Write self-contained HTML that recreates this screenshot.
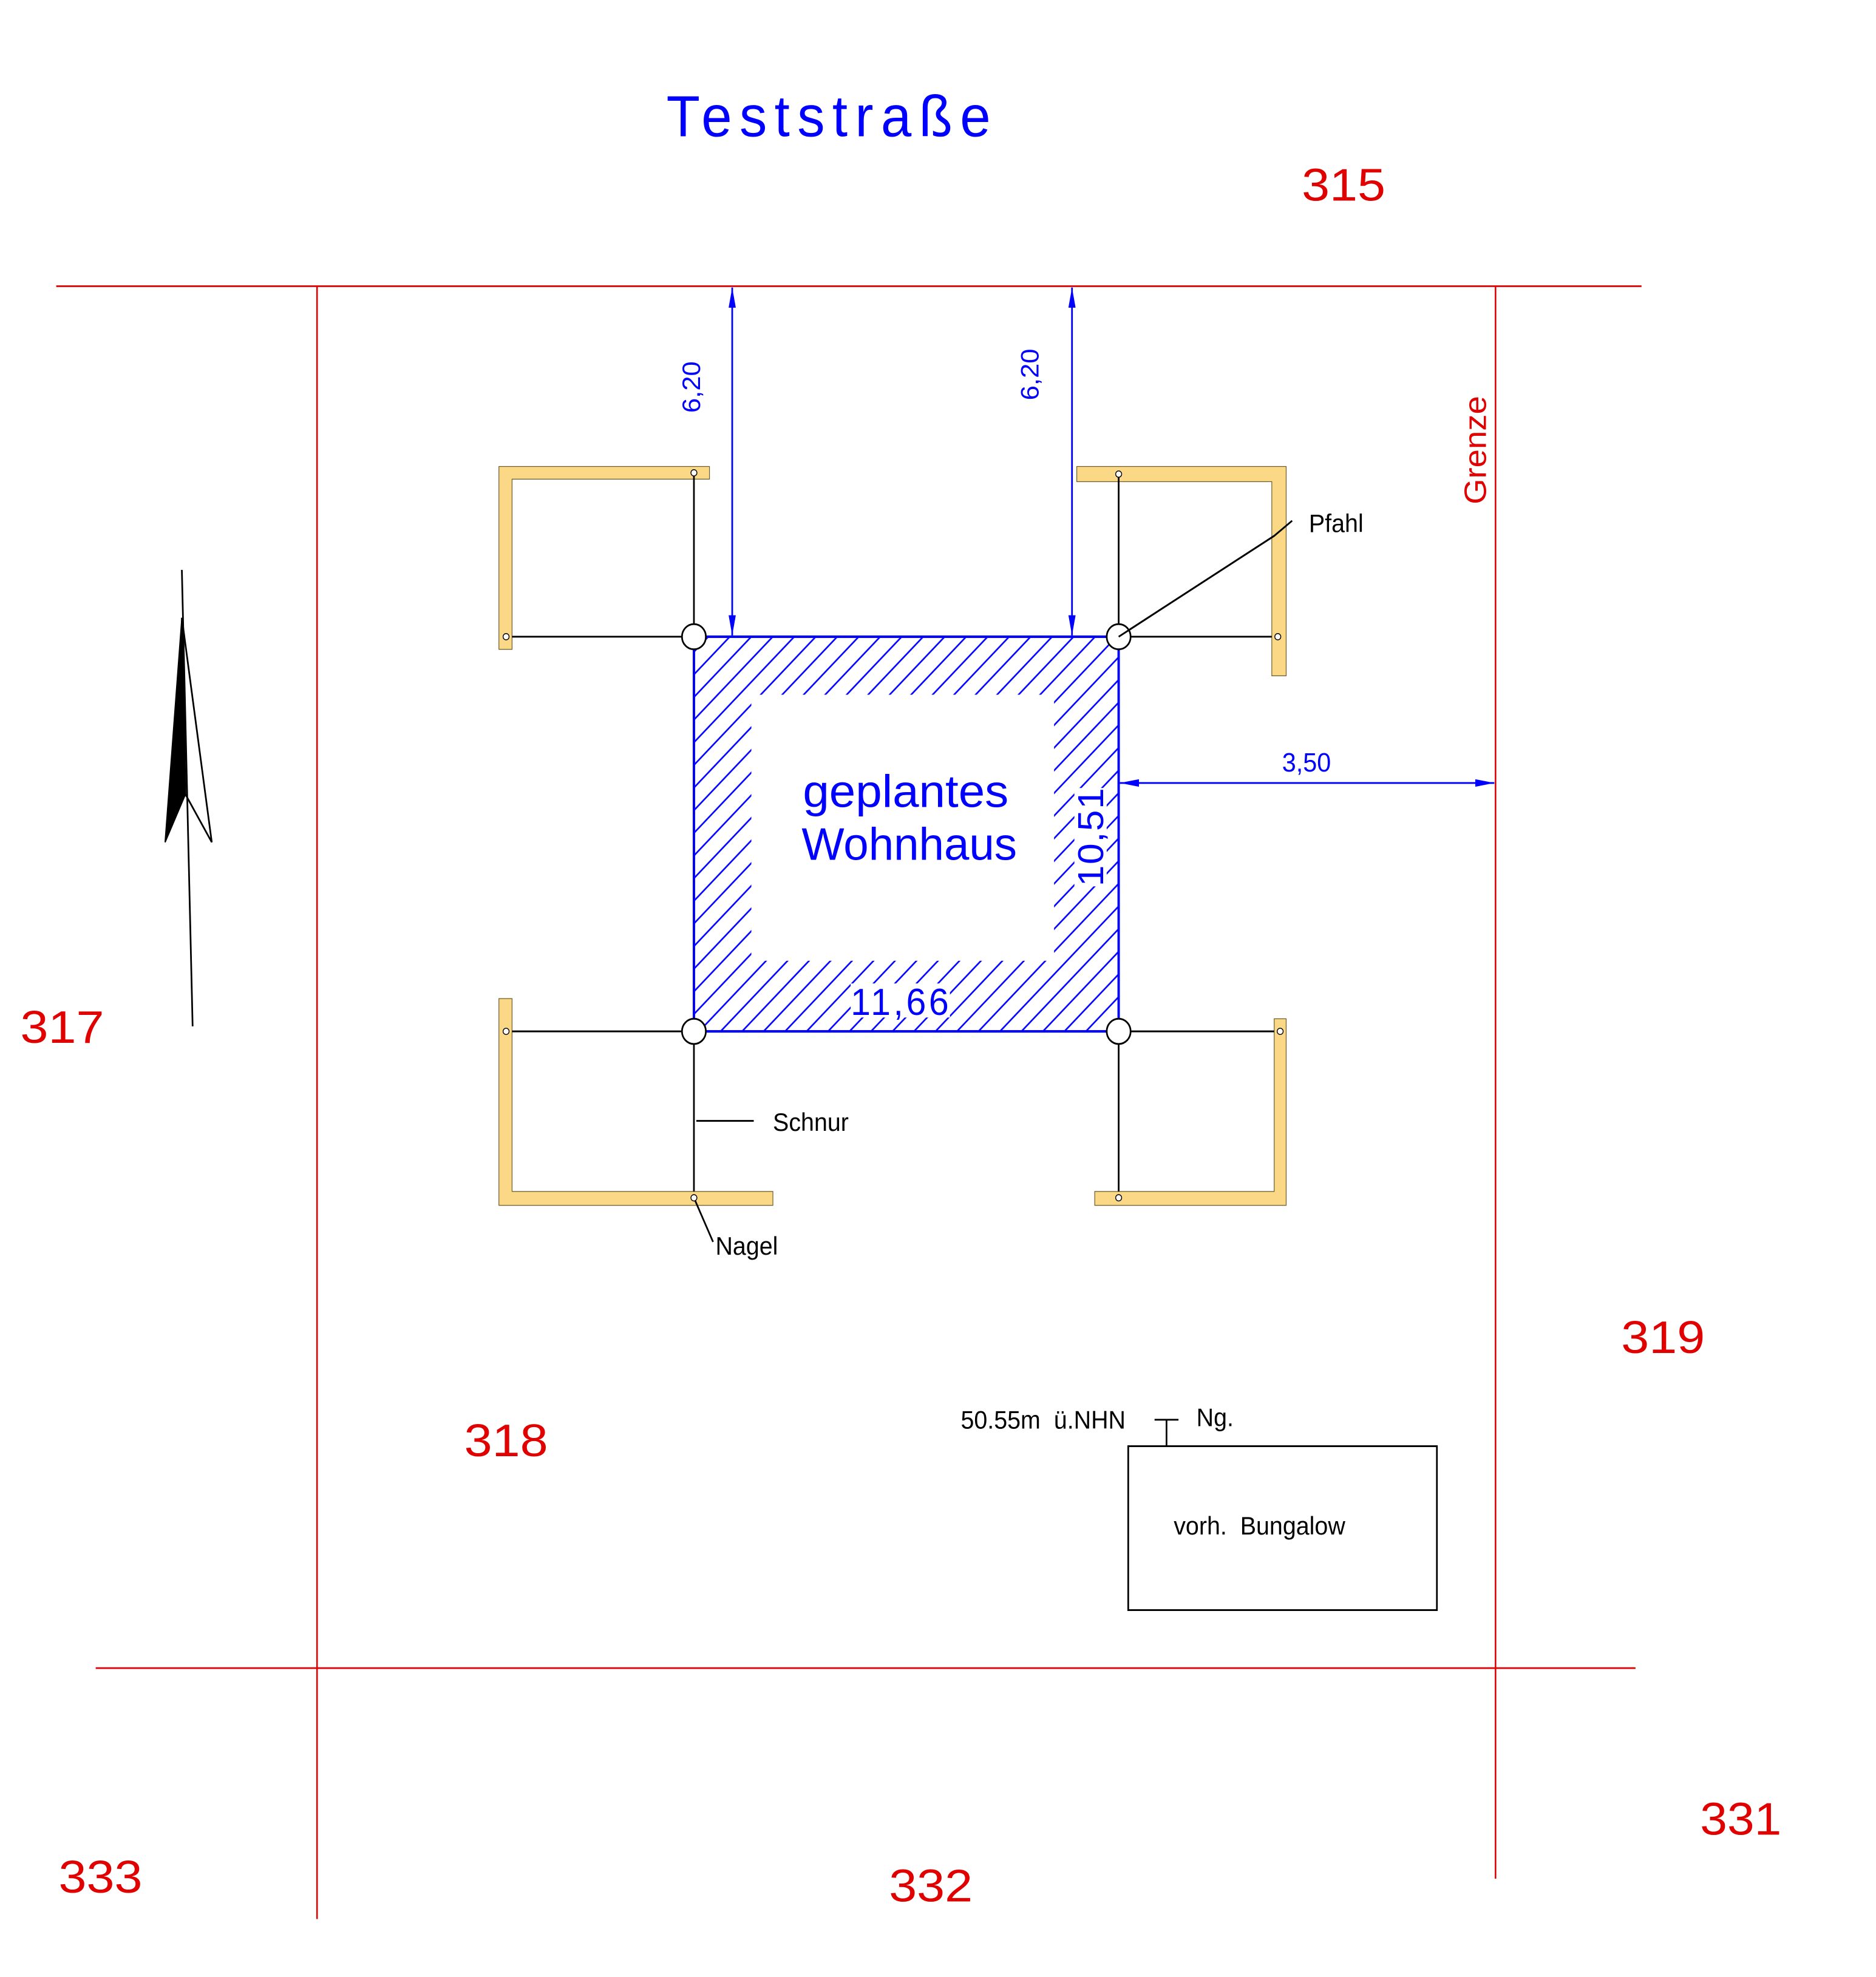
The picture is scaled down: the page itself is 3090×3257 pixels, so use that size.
<!DOCTYPE html>
<html><head><meta charset="utf-8"><style>html,body{margin:0;padding:0;background:#fff}svg{display:block}text{font-family:"Liberation Sans",sans-serif}</style></head>
<body>
<svg width="3090" height="3257" viewBox="0 0 1568 1568" preserveAspectRatio="none" xmlns="http://www.w3.org/2000/svg">
<defs>
<pattern id="h" patternUnits="userSpaceOnUse" width="12.7" height="12.7" patternTransform="rotate(45)">
<line x1="1" y1="0" x2="1" y2="12.7" stroke="#0000ff" stroke-width="1.3"/>
</pattern>
<marker id="a" viewBox="0 0 16 8" refX="16" refY="4" markerWidth="16" markerHeight="8" markerUnits="userSpaceOnUse" orient="auto-start-reverse">
<path d="M0,1 L16,4 L0,7 z" fill="#0000ff"/>
</marker>
</defs>
<rect width="1568" height="1568" fill="#fff"/>
<text x="557" y="108" font-size="46" fill="#0000ff" textLength="271" lengthAdjust="spacing">Teststraße</text>
<g stroke="#e00000" stroke-width="1.3" fill="none">
<line x1="47" y1="227" x2="1372" y2="227"/>
<line x1="265" y1="227" x2="265" y2="1522"/>
<line x1="1250" y1="227" x2="1250" y2="1490"/>
<line x1="80" y1="1323" x2="1367" y2="1323"/>
</g>
<g fill="#e00000" font-size="36">
<text x="1088" y="159" textLength="70" lengthAdjust="spacingAndGlyphs">315</text>
<text x="17" y="827" textLength="70" lengthAdjust="spacingAndGlyphs">317</text>
<text x="388" y="1155" textLength="70" lengthAdjust="spacingAndGlyphs">318</text>
<text x="1355" y="1073" textLength="70" lengthAdjust="spacingAndGlyphs">319</text>
<text x="1421" y="1455" textLength="68" lengthAdjust="spacingAndGlyphs">331</text>
<text x="743" y="1508" textLength="70" lengthAdjust="spacingAndGlyphs">332</text>
<text x="49" y="1501" textLength="70" lengthAdjust="spacingAndGlyphs">333</text>
<text transform="translate(1242,400) rotate(-90)" font-size="26" textLength="86" lengthAdjust="spacingAndGlyphs">Grenze</text>
</g>
<g fill="#fad885" stroke="#6b5a2a" stroke-width="0.6">
<path d="M417,370 H593 V380 H428 V515 H417 Z"/>
<path d="M900,370 H1075 V536 H1063 V382 H900 Z"/>
<path d="M417,792 H428 V945 H646 V956 H417 Z"/>
<path d="M1065,808 H1075 V956 H915 V945 H1065 Z"/>
</g>
<g stroke="#000" stroke-width="1.4" fill="none">
<line x1="580" y1="375" x2="580" y2="505"/><line x1="428" y1="505" x2="580" y2="505"/>
<line x1="935" y1="376" x2="935" y2="505"/><line x1="935" y1="505" x2="1063" y2="505"/>
<line x1="428" y1="818" x2="580" y2="818"/><line x1="580" y1="818" x2="580" y2="945"/>
<line x1="935" y1="818" x2="1065" y2="818"/><line x1="935" y1="818" x2="935" y2="945"/>
<polyline points="935,505 1065,425 1080,413"/>
<line x1="582" y1="889" x2="630" y2="889"/>
<line x1="580" y1="950" x2="596" y2="985"/>
</g>
<g fill="#fff" stroke="#000" stroke-width="0.7">
<circle cx="580" cy="375" r="2.5"/><circle cx="423" cy="505" r="2.5"/><circle cx="935" cy="376" r="2.5"/><circle cx="1068" cy="505" r="2.5"/>
<circle cx="423" cy="818" r="2.5"/><circle cx="580" cy="950" r="2.5"/><circle cx="1070" cy="818" r="2.5"/><circle cx="935" cy="950" r="2.5"/>
</g>
<rect x="580" y="505" width="355" height="313" fill="url(#h)"/>
<rect x="628" y="551" width="253" height="211" fill="#fff"/>
<rect x="711" y="780" width="83" height="27" fill="#fff"/>
<rect x="898" y="625" width="27" height="78" fill="#fff"/>
<rect x="580" y="505" width="355" height="313" fill="none" stroke="#0000ff" stroke-width="2"/>
<g fill="#0000ff">
<text x="757" y="640" font-size="36" text-anchor="middle" textLength="172" lengthAdjust="spacingAndGlyphs">geplantes</text>
<text x="760" y="682" font-size="36" text-anchor="middle" textLength="180" lengthAdjust="spacingAndGlyphs">Wohnhaus</text>
<text x="752" y="805" font-size="30" text-anchor="middle" textLength="82" lengthAdjust="spacing">11,66</text>
<text transform="translate(922,664) rotate(-90)" font-size="30" text-anchor="middle" textLength="78" lengthAdjust="spacing">10,51</text>
<text transform="translate(585,307) rotate(-90)" font-size="21" text-anchor="middle">6,20</text>
<text transform="translate(868,297) rotate(-90)" font-size="21" text-anchor="middle">6,20</text>
<text x="1092" y="612" font-size="21" text-anchor="middle">3,50</text>
</g>
<g stroke="#0000ff" stroke-width="1.4" fill="none">
<line x1="612" y1="228" x2="612" y2="504" marker-start="url(#a)" marker-end="url(#a)"/>
<line x1="896" y1="228" x2="896" y2="504" marker-start="url(#a)" marker-end="url(#a)"/>
<line x1="936" y1="621" x2="1249" y2="621" marker-start="url(#a)" marker-end="url(#a)"/>
</g>
<g fill="#fff" stroke="#000" stroke-width="1.4">
<circle cx="580" cy="505" r="10"/><circle cx="935" cy="505" r="10"/>
<circle cx="580" cy="818" r="10"/><circle cx="935" cy="818" r="10"/>
</g>
<line x1="935" y1="505" x2="1065" y2="425" stroke="#000" stroke-width="1.4"/>
<g fill="#000" font-size="20">
<text x="1094" y="422">Pfahl</text>
<text x="646" y="897">Schnur</text>
<text x="598" y="995">Nagel</text>
<text x="981" y="1217" xml:space="preserve">vorh.  Bungalow</text>
<text x="803" y="1133" xml:space="preserve">50.55m  ü.NHN</text>
<text x="1000" y="1131">Ng.</text>
</g>
<g stroke="#000" stroke-width="1.4" fill="none">
<line x1="965" y1="1126" x2="985" y2="1126"/><line x1="975" y1="1126" x2="975" y2="1147"/>
<rect x="943" y="1147" width="258" height="130"/>
</g>
<line x1="152" y1="452" x2="161" y2="814" stroke="#000" stroke-width="1.4"/>
<path d="M152,490 L138,668 L155,630 Z" fill="#000" stroke="#000" stroke-width="1"/>
<path d="M152,490 L177,668 L155,630 Z" fill="none" stroke="#000" stroke-width="1.4"/>
</svg>
</body></html>
